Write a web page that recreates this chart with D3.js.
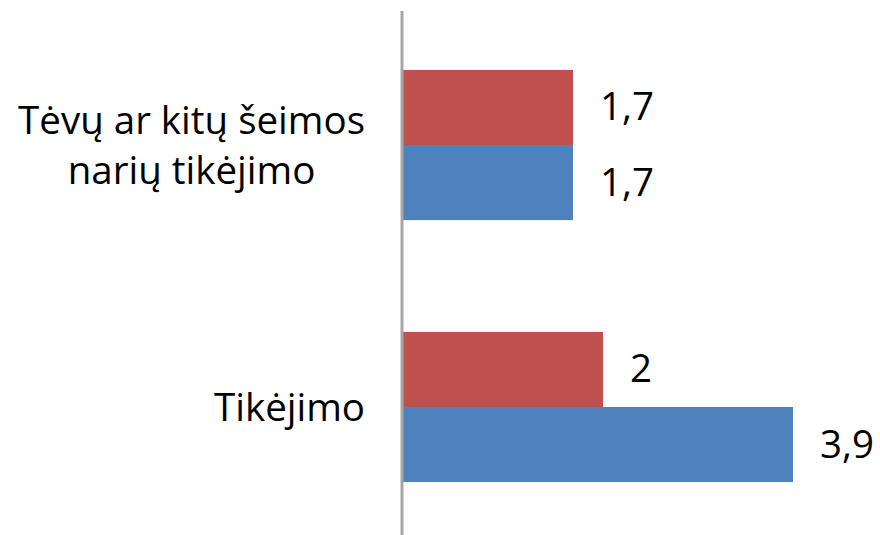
<!DOCTYPE html>
<html><head><meta charset="utf-8">
<script src="https://cdn.jsdelivr.net/npm/d3@7"></script>
<style>body{margin:0;background:#fff}svg{display:block}</style>
</head><body>
<script>
const categories = [["Tėvų ar kitų šeimos", "narių tikėjimo"], ["Tikėjimo"]];
const seriesNames = ["Serija 2", "Serija 1"]; // top (red), bottom (blue)
const seriesColors = ["#C0504D", "#4F81BD"];
const redValues = [1.7, 2];
const blueValues = [1.7, 3.9];
const valueLabels = [["1,7", "1,7"], ["2", "3,9"]];

const W = 880, H = 535;
const FONT = "'Open Sans', sans-serif";
const FS = 38.5;
const svg = d3.select("body").append("svg").attr("width", W).attr("height", H);

const x = d3.scaleLinear().domain([0, 3.9]).range([403, 793]);
const y = d3.scaleBand().domain(d3.range(categories.length)).range([14, 538]).paddingInner(0.427).paddingOuter(0.2135);
const ys = d3.scaleBand().domain([0, 1]).range([0, y.bandwidth()]);

const data = categories.map((c, i) => ({i, vals: [redValues[i], blueValues[i]], labs: valueLabels[i]}));

const g = svg.selectAll("g.cat").data(data).join("g").attr("class", "cat")
  .attr("transform", d => `translate(0,${y(d.i)})`);

g.selectAll("rect").data(d => d.vals.map((v, k) => ({v, k}))).join("rect")
  .attr("x", x(0)).attr("y", d => ys(d.k)).attr("height", ys.bandwidth())
  .attr("width", d => x(d.v) - x(0)).attr("fill", d => seriesColors[d.k]);

g.selectAll("text.val").data(d => d.vals.map((v, k) => ({v, k, lab: d.labs[k]}))).join("text")
  .attr("class", "val").attr("x", d => x(d.v) + 27).attr("y", d => ys(d.k) + ys.bandwidth() / 2 + 13)
  .attr("font-family", FONT).attr("font-size", FS).attr("fill", "#000").text(d => d.lab);

// axis line
svg.append("line").attr("x1", 402).attr("x2", 402).attr("y1", 11).attr("y2", 535)
  .attr("stroke", "#a6a6a6").attr("stroke-width", 3);

// category labels
categories.forEach((lines, i) => {
  const cy = y(i) + y.bandwidth() / 2;
  const tg = svg.append("g");
  const texts = lines.map((l, j) => tg.append("text").attr("font-family", FONT).attr("font-size", FS)
    .attr("fill", "#000").attr("text-anchor", "middle")
    .attr("y", cy + 14 - (lines.length - 1) * 25 + j * 50).text(l));
  const w = d3.max(texts, t => t.node().getComputedTextLength());
  texts.forEach(t => t.attr("x", 365 - w / 2));
});
</script>
</body></html>
